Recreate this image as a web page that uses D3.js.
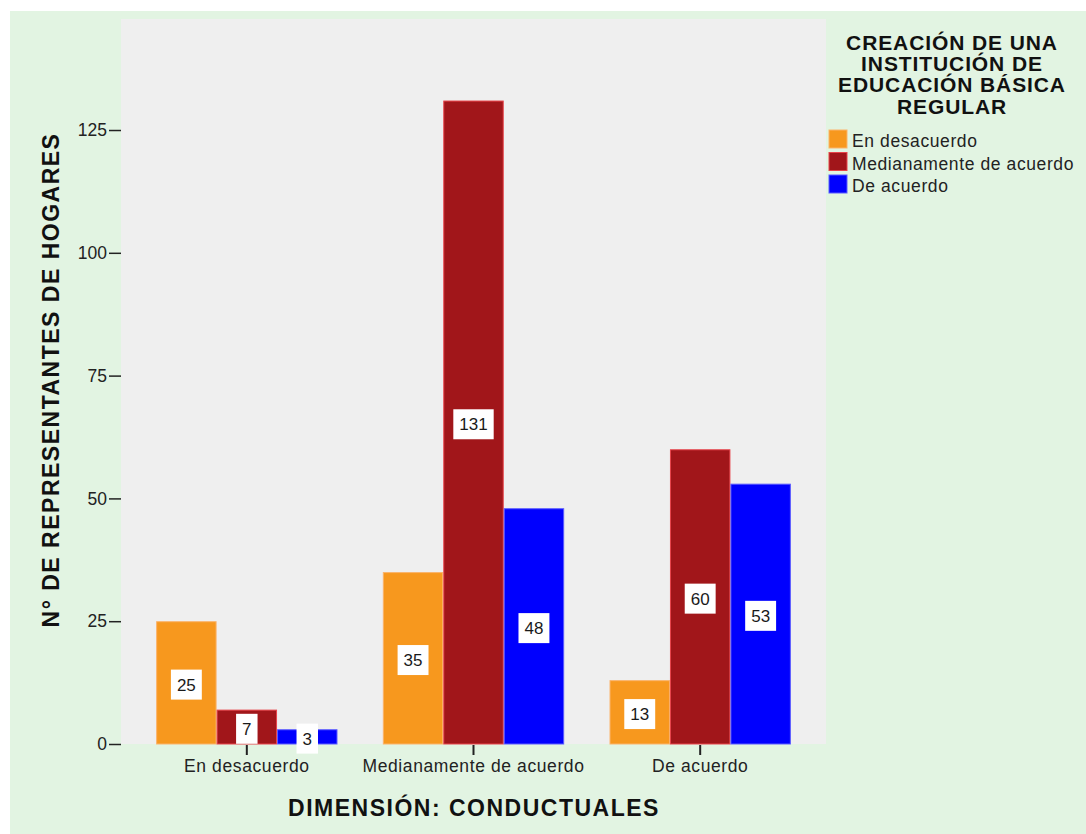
<!DOCTYPE html>
<html>
<head>
<meta charset="utf-8">
<script src="https://cdn.jsdelivr.net/npm/d3@7"></script>
<style>
  html, body { margin: 0; padding: 0; background: #ffffff; }
  svg { display: block; font-family: "Liberation Sans", Arial, sans-serif; }
</style>
</head>
<body>
<svg id="chart" width="1086" height="834"></svg>
<script>
// Categories on the x axis (dimension: conductuales)
const categories = ["En desacuerdo", "Medianamente de acuerdo", "De acuerdo"];
// Legend series (creación de una institución de educación básica regular)
const seriesNames = ["En desacuerdo", "Medianamente de acuerdo", "De acuerdo"];
// Counts per category, one array per series
const enDesacuerdo = [25, 35, 13];
const medianamente = [7, 131, 60];
const deAcuerdo = [3, 48, 53];
const yTicks = [0, 25, 50, 75, 100, 125];

const seriesValues = [enDesacuerdo, medianamente, deAcuerdo];
const colors = ["#f7981e", "#a1161a", "#0000fe"];
const strokes = ["#fbb36a", "#e8434a", "#5a5aff"];

const svg = d3.select("#chart");

// Outer panel
svg.append("rect").attr("x", 10).attr("y", 11).attr("width", 1076).attr("height", 823)
  .attr("fill", "#e2f4e2");

const plot = { left: 121, right: 826, top: 19, bottom: 744 };

// Plot background
svg.append("rect").attr("x", plot.left).attr("y", plot.top)
  .attr("width", plot.right - plot.left).attr("height", plot.bottom - plot.top)
  .attr("fill", "#efefef");

const x0 = d3.scaleBand().domain(categories).range([plot.left, plot.right])
  .paddingInner(0.2).paddingOuter(0.155);
const x1 = d3.scaleBand().domain(seriesNames).range([0, x0.bandwidth()]).padding(0);
const y = d3.scaleLinear().domain([0, 147.6]).range([plot.bottom, plot.top]);

// Bars
const rows = [];
categories.forEach((c, i) => {
  seriesNames.forEach((s, j) => {
    rows.push({ cat: c, series: s, j: j, value: seriesValues[j][i] });
  });
});

const g = svg.append("g");
g.selectAll("rect.bar").data(rows).join("rect")
  .attr("class", "bar")
  .attr("x", d => x0(d.cat) + x1(d.series) + 0.5)
  .attr("y", d => y(d.value) + 0.5)
  .attr("width", x1.bandwidth() - 1)
  .attr("height", d => y(0) - y(d.value) - 0.5)
  .attr("fill", d => colors[d.j])
  .attr("stroke", d => strokes[d.j])
  .attr("stroke-width", 1);

// Value labels in white boxes
const labels = g.selectAll("g.lbl").data(rows).join("g").attr("class", "lbl")
  .attr("transform", d => `translate(${x0(d.cat) + x1(d.series) + x1.bandwidth() / 2},${(y(d.value) + y(0)) / 2 + 2})`);
labels.each(function (d) {
  const sel = d3.select(this);
  const t = sel.append("text").text(d.value)
    .attr("text-anchor", "middle").attr("dy", "0.35em")
    .attr("font-size", 17).attr("fill", "#1a1a1a");
  const w = t.node().getComputedTextLength();
  const bw = Math.max(19, w + 12);
  sel.insert("rect", "text").attr("x", -bw / 2).attr("y", -15).attr("width", bw).attr("height", 30)
    .attr("fill", "#ffffff");
});

// Y axis
const yAxis = d3.axisLeft(y).tickValues(yTicks).tickSize(12).tickPadding(2);
const ya = svg.append("g").attr("transform", `translate(${plot.left},0)`).call(yAxis);
ya.select(".domain").remove();
ya.selectAll(".tick line").attr("stroke", "#222").attr("stroke-width", 1.5);
ya.selectAll(".tick text").attr("font-size", 17.5).attr("fill", "#222")
  .attr("font-family", "Liberation Sans, Arial, sans-serif");

// X axis
const xAxis = d3.axisBottom(x0).tickSize(10).tickPadding(5);
const xa = svg.append("g").attr("transform", `translate(0,${plot.bottom + 1})`).call(xAxis);
xa.select(".domain").remove();
xa.selectAll(".tick line").attr("stroke", "#222").attr("stroke-width", 2);
xa.selectAll(".tick text").attr("font-size", 17.5).attr("fill", "#222")
  .attr("letter-spacing", 0.6)
  .attr("font-family", "Liberation Sans, Arial, sans-serif");

// Axis titles
svg.append("text").attr("x", 474).attr("y", 816).attr("text-anchor", "middle")
  .attr("font-size", 23).attr("font-weight", "bold").attr("fill", "#111")
  .attr("letter-spacing", 1.5)
  .text("DIMENSIÓN: CONDUCTUALES");
svg.append("text").attr("transform", "translate(59,380) rotate(-90)")
  .attr("text-anchor", "middle").attr("font-size", 23).attr("font-weight", "bold").attr("fill", "#111")
  .attr("letter-spacing", 1.5)
  .text("N° DE REPRESENTANTES DE HOGARES");

// Legend
const legendTitle = ["CREACIÓN DE UNA", "INSTITUCIÓN DE", "EDUCACIÓN BÁSICA", "REGULAR"];
svg.append("g").selectAll("text").data(legendTitle).join("text")
  .attr("x", 952).attr("y", (d, i) => 50 + i * 21.2)
  .attr("text-anchor", "middle").attr("font-size", 21).attr("font-weight", "bold").attr("fill", "#111")
  .attr("letter-spacing", 0.9)
  .text(d => d);

const leg = svg.append("g").selectAll("g").data(seriesNames).join("g")
  .attr("transform", (d, i) => `translate(829,${130 + i * 22.5})`);
leg.append("rect").attr("width", 18).attr("height", 18)
  .attr("fill", (d, i) => colors[i]).attr("stroke", (d, i) => strokes[i]);
leg.append("text").attr("x", 23).attr("y", 17)
  .attr("font-size", 17.5).attr("fill", "#222").attr("letter-spacing", 0.6).text(d => d);
</script>
</body>
</html>
